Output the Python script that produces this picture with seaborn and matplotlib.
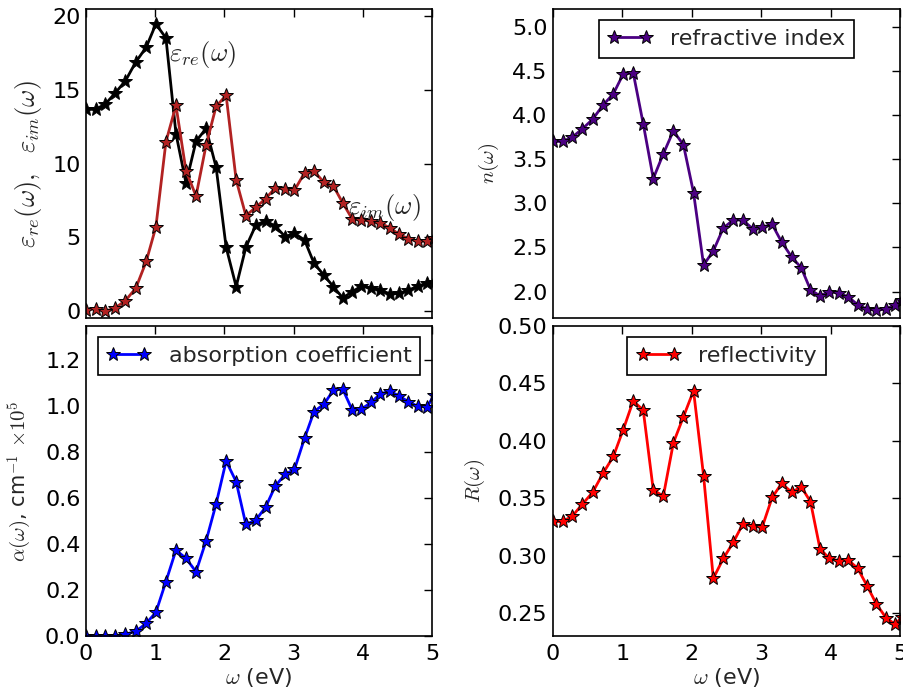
import numpy as np
import pandas as pd
import matplotlib
matplotlib.use("Agg")
import matplotlib.pyplot as plt
import seaborn as sns

# Photon energy grid (eV)
omega = [0.0, 0.14, 0.28, 0.42, 0.57, 0.72, 0.87, 1.01, 1.155, 1.30,
         1.445, 1.59, 1.735, 1.88, 2.025, 2.17, 2.31, 2.455, 2.597, 2.735,
         2.877, 3.013, 3.158, 3.295, 3.44, 3.576, 3.71, 3.847, 3.98, 4.118,
         4.254, 4.39, 4.525, 4.66, 4.797, 4.93, 5.03]

# Real and imaginary parts of the dielectric function
eps_re = [13.68, 13.68, 14.04, 14.78, 15.62, 16.90, 17.90, 19.48, 18.53, 12.03,
          8.67, 11.51, 12.38, 9.75, 4.31, 1.63, 4.31, 5.82, 6.10, 5.74,
          5.03, 5.25, 4.80, 3.22, 2.40, 1.62, 0.87, 1.28, 1.67, 1.52,
          1.38, 1.15, 1.17, 1.40, 1.65, 1.89, 1.98]
eps_im = [0.07, 0.14, -0.04, 0.18, 0.68, 1.53, 3.34, 5.69, 11.47, 13.95,
          9.50, 7.79, 11.24, 13.88, 14.63, 8.88, 6.46, 7.02, 7.62, 8.34,
          8.25, 8.19, 9.36, 9.48, 8.71, 8.46, 7.32, 6.23, 6.19, 6.06,
          5.95, 5.63, 5.19, 4.88, 4.72, 4.72, 4.91]

# Refractive index
n_idx = [3.70, 3.70, 3.75, 3.84, 3.95, 4.11, 4.24, 4.46, 4.48, 3.90,
         3.28, 3.56, 3.82, 3.66, 3.12, 2.30, 2.46, 2.72, 2.81, 2.81,
         2.71, 2.73, 2.76, 2.56, 2.39, 2.27, 2.02, 1.95, 2.00, 1.98,
         1.94, 1.85, 1.80, 1.79, 1.80, 1.85, 1.90]

# Absorption coefficient (x 1e5 cm^-1)
alpha = [0.0, 0.0, 0.0, 0.0, 0.008, 0.02, 0.055, 0.103, 0.237, 0.374,
         0.338, 0.280, 0.414, 0.575, 0.762, 0.672, 0.486, 0.505, 0.562, 0.653,
         0.704, 0.726, 0.861, 0.977, 1.010, 1.071, 1.075, 0.984, 0.988, 1.017,
         1.054, 1.067, 1.045, 1.020, 1.000, 0.998, 1.049]

# Reflectivity
refl = [0.3298, 0.3298, 0.3345, 0.3446, 0.3550, 0.3716, 0.3864, 0.4094, 0.4346, 0.4268,
        0.3571, 0.3519, 0.3983, 0.4210, 0.4436, 0.3693, 0.2802, 0.2976, 0.3115, 0.3275,
        0.3261, 0.3246, 0.3507, 0.3629, 0.3551, 0.3600, 0.3470, 0.3060, 0.2976, 0.2956,
        0.2962, 0.2889, 0.2738, 0.2578, 0.2460, 0.2401, 0.2468]

sns.set_theme(style="white")
plt.rcParams.update({
    "font.family": ["DejaVu Sans"],
    "mathtext.fontset": "cm",
    "axes.edgecolor": "black",
    "axes.linewidth": 1.2,
    "xtick.color": "black",
    "ytick.color": "black",
    "xtick.labelsize": 16,
    "ytick.labelsize": 16,
    "axes.labelsize": 16,
    "legend.fontsize": 16,
})

df = pd.DataFrame({"omega": omega, "eps_re": eps_re, "eps_im": eps_im,
                   "n": n_idx, "alpha": alpha, "R": refl})

W, H = 904, 693
fig = plt.figure(figsize=(W / 100, H / 100), dpi=100)


def box(x0, x1, y0, y1):
    return [x0 / W, 1 - y1 / H, (x1 - x0) / W, (y1 - y0) / H]


ax_eps = fig.add_axes(box(86, 432, 9, 318))
ax_abs = fig.add_axes(box(86, 432, 326, 636))
ax_n = fig.add_axes(box(553, 900, 9, 318))
ax_R = fig.add_axes(box(553, 900, 326, 636))

line_kw = dict(marker="*", markersize=10, markeredgecolor="black",
               markeredgewidth=0.7, linewidth=2, sort=False)

sns.lineplot(data=df, x="omega", y="eps_re", ax=ax_eps, color="black",
             markerfacecolor="black", legend=False, **line_kw)
sns.lineplot(data=df, x="omega", y="eps_im", ax=ax_eps, color="#b22222",
             markerfacecolor="#b22222", legend=False, **line_kw)
sns.lineplot(data=df, x="omega", y="n", ax=ax_n, color="#4b0082",
             markerfacecolor="#4b0082", label="refractive index", **line_kw)
sns.lineplot(data=df, x="omega", y="alpha", ax=ax_abs, color="#0000ff",
             markerfacecolor="#0000ff", label="absorption coefficient", **line_kw)
sns.lineplot(data=df, x="omega", y="R", ax=ax_R, color="#ff0000",
             markerfacecolor="#ff0000", label="reflectivity", **line_kw)

ax_eps.text(1.2, 17.0, r"$\varepsilon_{re}(\omega)$", fontsize=19)
ax_eps.text(3.79, 6.6, r"$\varepsilon_{im}(\omega)$", fontsize=19)

ax_eps.set_ylim(-0.5, 20.5)
ax_eps.set_yticks([0, 5, 10, 15, 20])
ax_n.set_ylim(1.7, 5.2)
ax_n.set_yticks([2.0, 2.5, 3.0, 3.5, 4.0, 4.5, 5.0])
ax_n.yaxis.set_major_formatter(matplotlib.ticker.FormatStrFormatter("%.1f"))
ax_abs.set_ylim(0, 1.35)
ax_abs.set_yticks([0.0, 0.2, 0.4, 0.6, 0.8, 1.0, 1.2])
ax_abs.yaxis.set_major_formatter(matplotlib.ticker.FormatStrFormatter("%.1f"))
ax_R.set_ylim(0.23, 0.50)
ax_R.set_yticks([0.25, 0.30, 0.35, 0.40, 0.45, 0.50])
ax_R.yaxis.set_major_formatter(matplotlib.ticker.FormatStrFormatter("%.2f"))

for ax in (ax_eps, ax_abs, ax_n, ax_R):
    ax.set_xlim(0, 5)
    ax.set_xticks([0, 1, 2, 3, 4, 5])
    ax.tick_params(direction="in", top=True, right=True, length=6, width=1)
    ax.tick_params(axis="y", pad=4)
    ax.tick_params(axis="x", pad=6)
    ax.set_xlabel("")

for ax in (ax_eps, ax_n):
    ax.set_xticklabels([])

for ax in (ax_abs, ax_R):
    ax.set_xlabel(r"$\omega$ (eV)", fontsize=16, labelpad=1)

ax_eps.set_ylabel(r"$\varepsilon_{re}(\omega),\ \ \varepsilon_{im}(\omega)$",
                  fontsize=19, labelpad=6)
ax_n.set_ylabel(r"$n(\omega)$", fontsize=15, labelpad=8)
ax_abs.set_ylabel(r"$\alpha(\omega)$, cm$^{-1}$ $\times10^5$", fontsize=15,
                  labelpad=8)
ax_R.set_ylabel(r"$R(\omega)$", fontsize=15, labelpad=8)

for ax in (ax_n, ax_abs, ax_R):
    leg = ax.legend(loc="upper center", numpoints=2, fancybox=False,
                    framealpha=1, edgecolor="black", borderaxespad=0.5,
                    handlelength=2.0)
    leg.get_frame().set_linewidth(1.2)

fig.savefig("out.png", dpi=100)
